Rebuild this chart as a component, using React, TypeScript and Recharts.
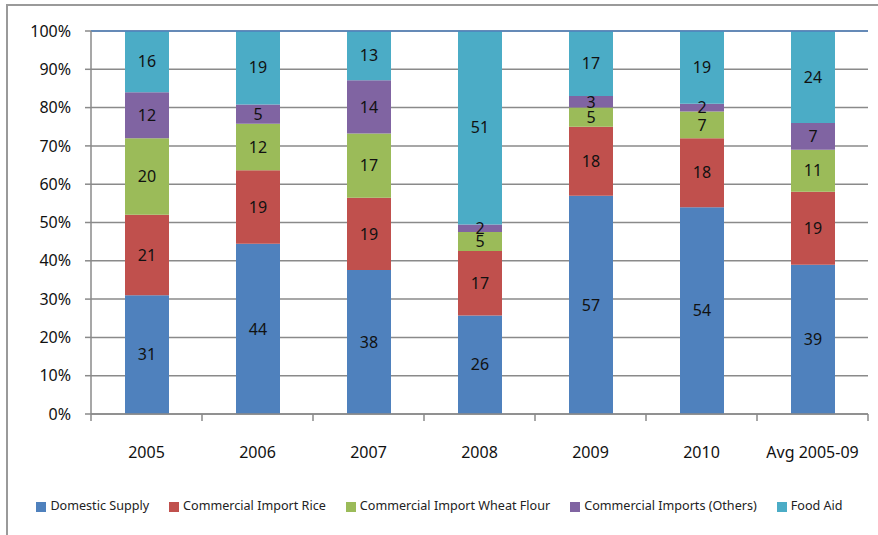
import React from 'react';
import {
  BarChart,
  Bar,
  XAxis,
  YAxis,
  CartesianGrid,
  Legend,
  LabelList,
  ReferenceLine,
} from 'recharts';

const categories = ['2005', '2006', '2007', '2008', '2009', '2010', 'Avg 2005-09'];
const domesticSupply = [31, 44, 38, 26, 57, 54, 39];
const importRice = [21, 19, 19, 17, 18, 18, 19];
const importWheatFlour = [20, 12, 17, 5, 5, 7, 11];
const importOthers = [12, 5, 14, 2, 3, 2, 7];
const foodAid = [16, 19, 13, 51, 17, 19, 24];
const yTicks = [0, 0.1, 0.2, 0.3, 0.4, 0.5, 0.6, 0.7, 0.8, 0.9, 1];

const series = [
  { key: 'domestic', name: 'Domestic Supply', color: '#4F81BD', values: domesticSupply },
  { key: 'rice', name: 'Commercial Import Rice', color: '#C0504D', values: importRice },
  { key: 'wheat', name: 'Commercial Import Wheat Flour', color: '#9BBB59', values: importWheatFlour },
  { key: 'others', name: 'Commercial Imports (Others)', color: '#8064A2', values: importOthers },
  { key: 'aid', name: 'Food Aid', color: '#4BACC6', values: foodAid },
];

const data = categories.map((cat, i) => {
  const row: Record<string, any> = { category: cat };
  series.forEach((s) => {
    row[s.key] = s.values[i];
  });
  return row;
});

const WIDTH = 878;
const HEIGHT = 535;
const MARGIN = { top: 31, right: 10, left: 31, bottom: 54 };
const Y_AXIS_W = 60;
const PLOT_W = WIDTH - MARGIN.left - MARGIN.right - Y_AXIS_W;
const BAND = PLOT_W / categories.length;
const FONT = '"Noto Sans", sans-serif';
const GRID = '#8a8a8a';

const XTick = (props: any) => {
  const { x, y, payload, index } = props;
  const last = index === categories.length - 1;
  return (
    <g>
      <line x1={x - BAND / 2} y1={y} x2={x - BAND / 2} y2={y + 7} stroke={GRID} strokeWidth={1.5} />
      {last && (
        <line x1={x + BAND / 2} y1={y} x2={x + BAND / 2} y2={y + 7} stroke={GRID} strokeWidth={1.5} />
      )}
      <text x={x} y={y + 38} textAnchor="middle" dominantBaseline="central" fontSize={16} fill="#111" fontFamily={FONT}>
        {payload.value}
      </text>
    </g>
  );
};

export default function App() {
  return (
    <div style={{ position: 'absolute', left: 0, top: 0, width: WIDTH, height: HEIGHT, background: '#fff', overflow: 'hidden' }}>
      <div
        style={{
          position: 'absolute',
          left: 6,
          top: 4,
          width: 900,
          height: 600,
          border: '2px solid #9a9a9a',
        }}
      />
      <BarChart
        width={WIDTH}
        height={HEIGHT}
        data={data}
        margin={MARGIN}
        stackOffset="expand"
        barSize={44}
        style={{ position: 'absolute', left: 0, top: 0, fontFamily: FONT }}
      >
        <CartesianGrid vertical={false} stroke={GRID} strokeWidth={1.5} />
        <XAxis
          dataKey="category"
          height={50}
          tickSize={0}
          tickMargin={0}
          interval={0}
          axisLine={{ stroke: GRID, strokeWidth: 1.5 }}
          tick={<XTick />}
        />
        <YAxis
          width={Y_AXIS_W}
          domain={[0, 1]}
          ticks={yTicks}
          interval={0}
          tickFormatter={(v: number) => `${Math.round(v * 100)}%`}
          axisLine={{ stroke: GRID, strokeWidth: 1.5 }}
          tickLine={{ stroke: GRID, strokeWidth: 1.5 }}
          tickSize={6}
          tickMargin={14}
          tick={{ fontSize: 16, fill: '#111', fontFamily: FONT }}
        />
        <YAxis
          yAxisId="right"
          orientation="right"
          width={0}
          tick={false}
          tickLine={false}
          axisLine={{ stroke: '#4F81BD', strokeWidth: 1.5 }}
        />
        <ReferenceLine y={1} stroke="#4F81BD" strokeWidth={1.5} />
        {series.map((s) => (
          <Bar key={s.key} dataKey={s.key} name={s.name} stackId="a" fill={s.color} isAnimationActive={false}>
            <LabelList dataKey={s.key} position="center" fill="#111" fontSize={16} fontFamily={FONT} />
          </Bar>
        ))}
        <Legend
          iconType="square"
          iconSize={10}
          itemSorter={(item: any) => series.findIndex((s) => s.name === item.value)}
          wrapperStyle={{ top: 497, fontSize: 12.6, fontFamily: FONT }}
          formatter={(value: string) => <span style={{ color: '#222', marginRight: 10 }}>{value}</span>}
        />
      </BarChart>
    </div>
  );
}
